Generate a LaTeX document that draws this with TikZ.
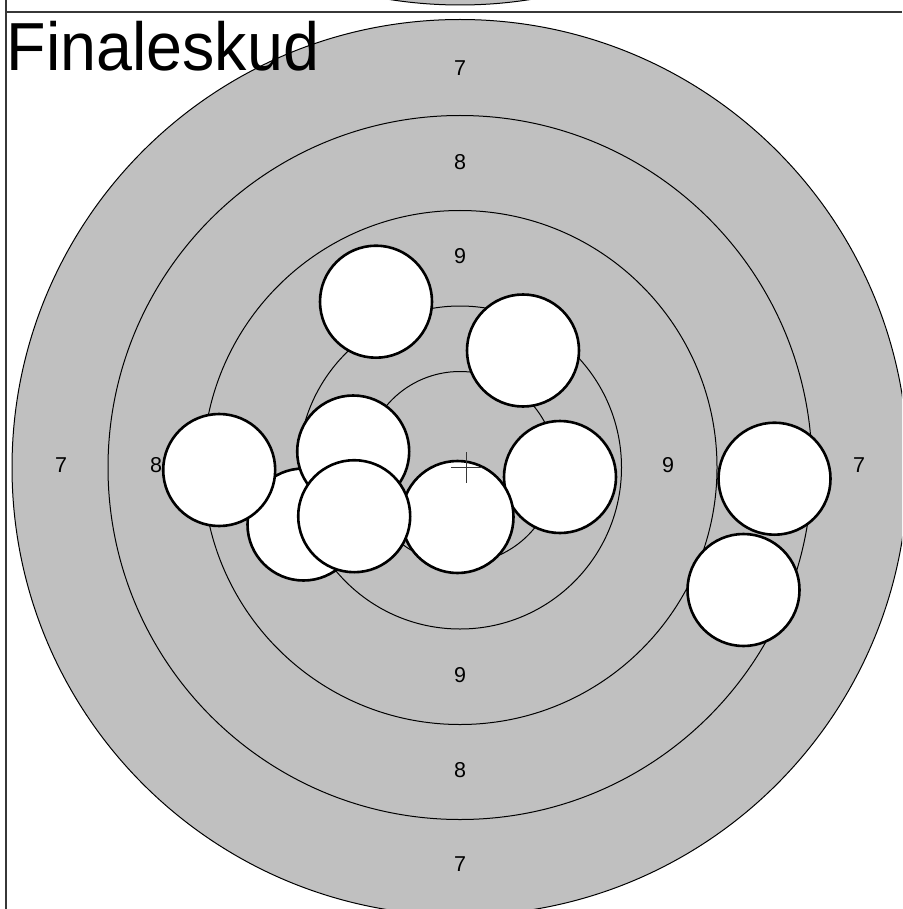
\documentclass[tikz,border=0pt]{standalone}
\usepackage{fontspec}
\setmainfont{Liberation Sans}
\newfontfamily\titlefont[FakeStretch=0.95]{Liberation Sans}
\definecolor{targetgray}{RGB}{192,192,192}
\definecolor{framegray}{RGB}{55,55,55}
\begin{document}
\begin{tikzpicture}[x=1pt,y=-1pt,
  ringfill/.style={fill=targetgray,draw=black,line width=1pt},
  ringline/.style={draw=black,line width=1pt},
  shot/.style={circle,draw=black,fill=white,line width=2.6pt,minimum size=112pt,inner sep=0pt},
  ringlabel/.style={font=\fontsize{21.5}{25}\selectfont,inner sep=0pt},
  frameline/.style={draw=framegray,line width=2pt},
  crossline/.style={draw=framegray,line width=1.7pt}]
\useasboundingbox (0,0) rectangle (902,909);
\clip (0,0) rectangle (902,909);
% previous target (cut off at top)
\coordinate (pc) at (460,-443);
\draw[ringfill] (pc) circle[radius=448];
% frame
\coordinate (fl1) at (6,0);
\coordinate (fl2) at (6,909);
\coordinate (ft1) at (6,12);
\coordinate (ft2) at (902,12);
\draw[frameline] (fl1) -- (fl2);
\draw[frameline] (ft1) -- (ft2);
% target
\coordinate (c) at (460,467.5);
\draw[ringfill] (c) circle[radius=448];
\draw[ringline] (c) circle[radius=352];
\draw[ringline] (c) circle[radius=257];
\draw[ringline] (c) circle[radius=161.5];
\draw[ringline] (c) circle[radius=96];
% ring labels
\node[ringlabel] (lt7) at (460,68) {7};
\node[ringlabel] (lt8) at (460,162) {8};
\node[ringlabel] (lt9) at (460,256.5) {9};
\node[ringlabel] (lb9) at (460,675) {9};
\node[ringlabel] (lb8) at (460,770) {8};
\node[ringlabel] (lb7) at (460,864) {7};
\node[ringlabel] (ll7) at (61,465.5) {7};
\node[ringlabel] (ll8) at (156,465.5) {8};
\node[ringlabel] (lr9) at (668,465.5) {9};
\node[ringlabel] (lr7) at (859,465.5) {7};
% shots
\node[shot] (s3) at (560,477) {};
\node[shot] (s10) at (457.5,517) {};
\node[shot] (s8) at (303.5,524.5) {};
\node[shot] (s6) at (219.2,470) {};
\node[shot] (s7) at (353.2,451.5) {};
\node[shot] (s9) at (354.2,516.2) {};
\node[shot] (s1) at (376,301.7) {};
\node[shot] (s2) at (523,350.5) {};
\node[shot] (s4) at (774.5,478.7) {};
\node[shot] (s5) at (743.5,590) {};
% mean point of impact
\coordinate (m) at (466.5,467.5);
\coordinate (mh1) at (451,467.5);
\coordinate (mh2) at (482,467.5);
\coordinate (mv1) at (466.5,452);
\coordinate (mv2) at (466.5,483);
\draw[crossline] (mh1) -- (mh2);
\draw[crossline] (mv1) -- (mv2);
% title
\node[anchor=base west,inner sep=0pt,font=\titlefont\fontsize{68}{80}\selectfont] (title) at (6.4,71) {Finaleskud};
\end{tikzpicture}
\end{document}
